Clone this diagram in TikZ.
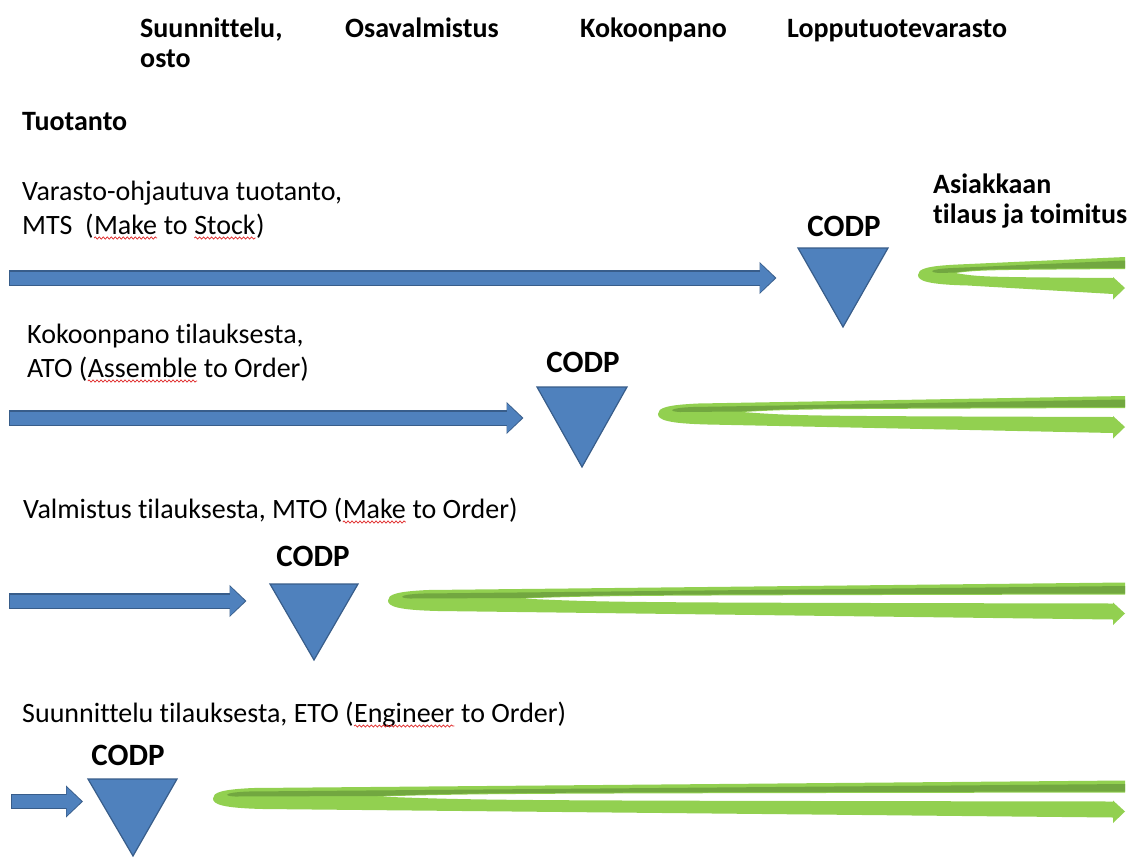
\documentclass[tikz,border=0pt]{standalone}
\usepackage{fontspec}
\setmainfont{Carlito}[Ligatures=NoCommon]
\usetikzlibrary{arrows.meta,decorations.pathmorphing}

\definecolor{flowblue}{HTML}{4F81BD}
\definecolor{flowedge}{HTML}{385D8A}
\definecolor{leaf}{HTML}{92D050}
\definecolor{leafdark}{HTML}{72A740}
\definecolor{spell}{HTML}{E02828}

% red wavy underline under a word
\newcommand\spellmark[1]{\tikz[baseline=(sw.base),x=1pt,y=1pt]{%
  \node[inner sep=0pt,outer sep=0pt,anchor=base,draw=none,fill=none] (sw) {#1};
  \draw[spell,line width=0.7pt,decorate,decoration={snake,segment length=4pt,amplitude=1.1pt}]
    ([yshift=-4pt]sw.base west) -- ([yshift=-4pt]sw.base east);}}

% green looping order/delivery ribbon: #1 = left end x, #2 = middle y
\newcommand\orderloop[2]{%
  \pgfmathsetmacro\mergex{#1+0.18*(1125-#1)}%
  \pgfmathsetmacro\bendx{\mergex+0.12*(1125-#1)}%
  \fill[leaf] (1125,{#2-17.5}) -- ({#1+40},{#2-10})
     .. controls ({#1+8},{#2-8.5}) and (#1,{#2-5.5}) .. (#1,{#2+0.5})
     .. controls (#1,{#2+6.5}) and ({#1+10},{#2+10}) .. ({#1+50},{#2+11})
     -- (1113,{#2+19.5}) -- (1113,{#2+25}) -- (1125,{#2+13.5}) -- (1113,{#2+2.5})
     -- (1113,{#2+3.5}) .. controls (\bendx,{#2+2.5}) .. (\mergex,{#2-1.5})
     .. controls (\bendx,{#2-4.5}) .. (1125,{#2-5.5}) -- cycle;
  \fill[leafdark] (1125,{#2-14}) -- (1125,{#2-6.5})
     .. controls (\bendx,{#2-5.5}) .. (\mergex,{#2-2})
     -- ({#1+22},{#2-1.5}) .. controls ({#1+10},{#2-2}) and ({#1+10},{#2-5.5}) .. ({#1+35},{#2-6.5})
     -- cycle;
}

\tikzset{
  hdr/.style={font=\bfseries\fontsize{28}{32}\selectfont, anchor=base west, inner sep=0pt},
  lbl/.style={font=\fontsize{28}{32}\selectfont, anchor=base west, inner sep=0pt},
  codplabel/.style={font=\bfseries\fontsize{31}{34}\selectfont, anchor=base, inner sep=0pt},
  tri/.style={fill=flowblue, draw=flowedge, line width=1.2pt, line join=miter},
  flow/.style={flowblue, line width=13pt, -{Triangle[length=15pt,width=28pt]},
    preaction={draw=flowedge, line width=15.5pt, -{Triangle[length=17pt,width=31pt]},
      shorten >=-1.5pt, shorten <=-1pt}},
}

\begin{document}
\begin{tikzpicture}[x=1pt,y=-1pt]
\fill[white] (0,0) rectangle (1135,857);
\useasboundingbox (0,0) rectangle (1135,857);

% column headings
\node[hdr] (hdrDesignA) at (140,37) {Suunnittelu,};
\node[hdr] (hdrDesignB) at (140,67) {osto};
\node[hdr] (hdrParts) at (345,37) {Osavalmistus};
\node[hdr] (hdrAssembly) at (580,37) {Kokoonpano};
\node[hdr] (hdrStock) at (787,37) {Lopputuotevarasto};
\node[hdr] (hdrProd) at (22,130) {Tuotanto};
\node[hdr] (custA) at (933,193) {Asiakkaan};
\node[hdr] (custB) at (933,223) {tilaus ja toimitus};

% strategy labels
\node[lbl] (mtsA) at (22,200) {Varasto-ohjautuva tuotanto,};
\node[lbl] (mtsB) at (22,234) {MTS\ \ (\spellmark{Make} to \spellmark{Stock})};
\node[lbl] (atoA) at (27,343) {Kokoonpano tilauksesta,};
\node[lbl] (atoB) at (27,377) {ATO (\spellmark{Assemble} to Order)};
\node[lbl] (mto) at (23,518) {Valmistus tilauksesta, MTO (\spellmark{Make} to Order)};
\node[lbl] (eto) at (22,722) {Suunnittelu tilauksesta, ETO (\spellmark{Engineer} to Order)};

% decoupling points
\node[codplabel] (codp1) at (844,236) {CODP};
\node[codplabel] (codp2) at (583,372) {CODP};
\node[codplabel] (codp3) at (313,566) {CODP};
\node[codplabel] (codp4) at (128,765) {CODP};
\draw[tri] (798,248) -- (888,248) -- (843,327) -- cycle;
\draw[tri] (537,387) -- (627,387) -- (582,467) -- cycle;
\draw[tri] (270,584) -- (358,584) -- (314,660) -- cycle;
\draw[tri] (88,779) -- (177,779) -- (133,856) -- cycle;

% forecast-driven flow up to the decoupling point
\coordinate (mtsIn) at (10,278);   \coordinate (mtsOut) at (775,278);
\coordinate (atoIn) at (10,418);   \coordinate (atoOut) at (522,418);
\coordinate (mtoIn) at (10,601);   \coordinate (mtoOut) at (245,601);
\coordinate (etoIn) at (12,801.5); \coordinate (etoOut) at (81.5,801.5);
\draw[flow] (mtsIn) -- (mtsOut);
\draw[flow] (atoIn) -- (atoOut);
\draw[flow] (mtoIn) -- (mtoOut);
\draw[flow] (etoIn) -- (etoOut);

% customer order loops
\orderloop{918}{274.5}
\orderloop{658}{413.5}
\orderloop{388}{600}
\orderloop{213}{798}
\end{tikzpicture}
\end{document}
